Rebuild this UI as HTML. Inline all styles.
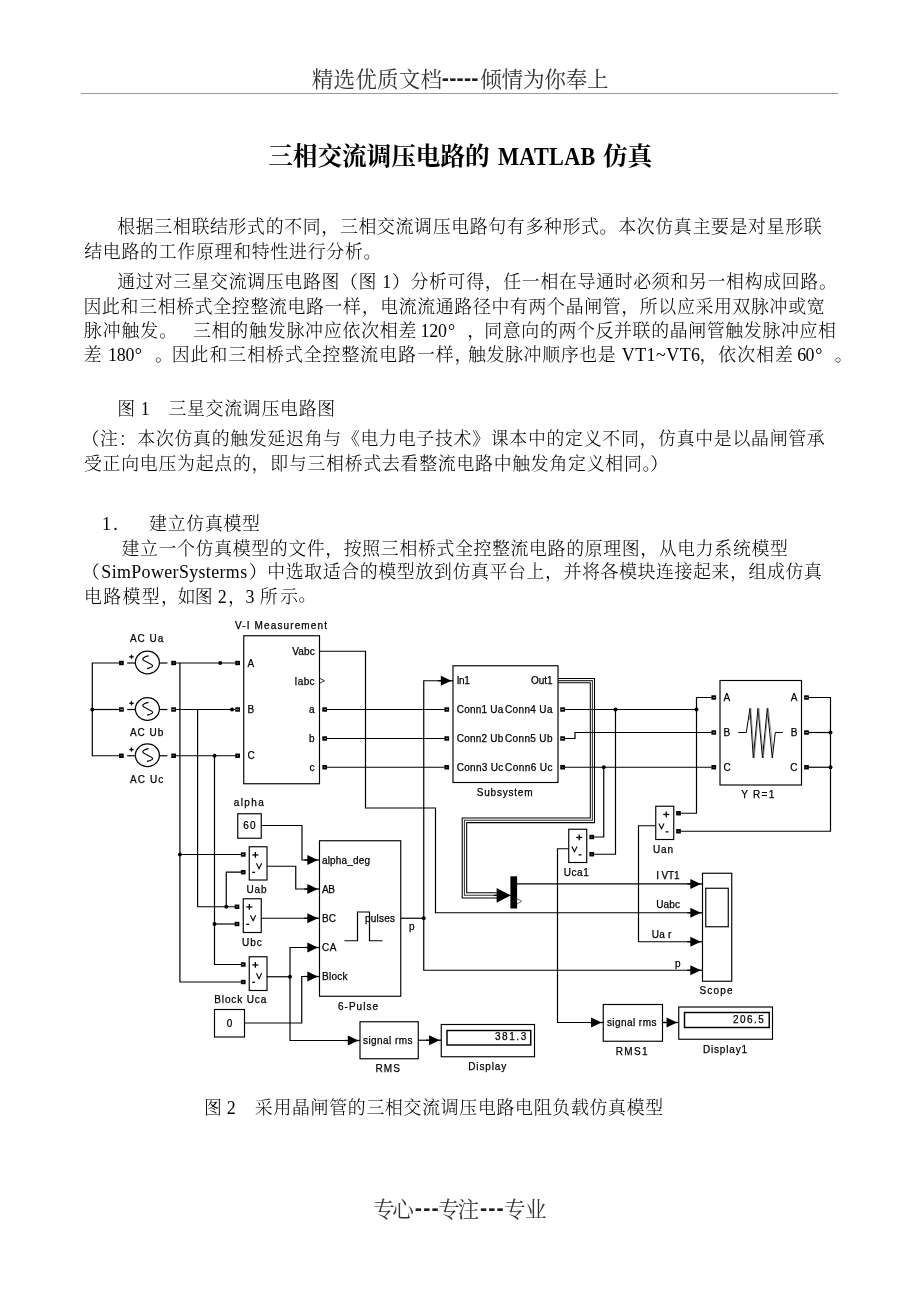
<!DOCTYPE html>
<html lang="zh-CN"><head><meta charset="utf-8"><title>三相交流调压电路的 MATLAB 仿真</title>
<style>
html,body{margin:0;padding:0;background:#fff;}
body{width:920px;height:1302px;position:relative;overflow:hidden;font-family:"Liberation Serif","Noto Serif CJK SC",serif;color:#000;}
.t{position:absolute;white-space:pre;line-height:24px;height:24px;margin:0;}
.b{font-weight:300;color:#000;}
.hd{color:#333;font-weight:400;line-height:28px;height:28px;font-family:"Liberation Sans","Noto Serif CJK SC",serif;}
.hb{color:#222;font-weight:700;line-height:28px;height:28px;font-family:"Liberation Sans",sans-serif;}
.tt{font-weight:700;color:#000;line-height:32px;height:32px;}
.rule{position:absolute;left:81px;top:93.4px;width:757px;height:1px;background:#999;}
svg{position:absolute;left:0;top:0;}
svg text{font-family:"Liberation Sans",sans-serif;font-size:10px;fill:#000;stroke:#000;stroke-width:.25px;}
</style></head><body>
<div id="pg" style="position:absolute;left:0;top:0;width:920px;height:1302px;will-change:transform">
<div class="rule"></div>

<div class="t hd" id="hda" style="left:311.75px;top:65.86px;font-size:21.6px;letter-spacing:0.150px">精选优质文档</div>
<div class="t hb" id="hdb" style="left:441.75px;top:64.26px;font-size:21.6px;letter-spacing:0.188px">-----</div>
<div class="t hd" id="hdc" style="left:480.25px;top:65.86px;font-size:21.6px;letter-spacing:-0.250px">倾情为你奉上</div>
<div class="t tt" id="tta" style="left:268.25px;top:141.13px;font-size:24.7px;letter-spacing:-0.094px">三相交流调压电路的</div>
<div class="t tt" id="ttb" style="left:498.25px;top:141.13px;font-size:25px;letter-spacing:0.300px;transform:scaleX(0.89);transform-origin:0 0">MATLAB</div>
<div class="t tt" id="ttc" style="left:603.00px;top:141.13px;font-size:24.7px;letter-spacing:-0.250px">仿真</div>
<div class="t b" id="l1" style="left:117.25px;top:215.44px;font-size:17.9px;letter-spacing:0.662px">根据三相联结形式的不同，三相交流调压电路句有多种形式。本次仿真主要是对星形联</div>
<div class="t b" id="l2" style="left:84.16px;top:239.54px;font-size:17.9px;letter-spacing:0.733px">结电路的工作原理和特性进行分析。</div>
<div class="t b" id="l3" style="left:117.25px;top:270.44px;font-size:17.9px;letter-spacing:0.674px">通过对三星交流调压电路图（图 1）分析可得，任一相在导通时必须和另一相构成回路。</div>
<div class="t b" id="l4" style="left:83.52px;top:294.85px;font-size:17.9px;letter-spacing:0.652px">因此和三相桥式全控整流电路一样，电流流通路径中有两个晶闸管，所以应采用双脉冲或宽</div>
<div class="t b" id="l5a" style="left:83.78px;top:318.94px;font-size:17.9px;letter-spacing:0.975px">脉冲触发。</div>
<div class="t b" id="l5b" style="left:193.00px;top:318.94px;font-size:17.9px;letter-spacing:0.795px">三相的触发脉冲应依次相差</div>
<div class="t b" id="l5c" style="left:420.50px;top:318.94px;font-size:17.9px;letter-spacing:-0.250px">120</div>
<div class="t b" id="l5d" style="left:448.00px;top:318.94px;font-size:17.9px">°</div>
<div class="t b" id="l5e" style="left:467.25px;top:318.94px;font-size:17.9px">，</div>
<div class="t b" id="l5f" style="left:484.25px;top:318.94px;font-size:17.9px;letter-spacing:0.653px">同意向的两个反并联的晶闸管触发脉冲应相</div>
<div class="t b" id="l6a" style="left:83.66px;top:342.96px;font-size:17.9px">差</div>
<div class="t b" id="l6b" style="left:108.00px;top:342.96px;font-size:17.9px;letter-spacing:-0.250px">180</div>
<div class="t b" id="l6c" style="left:134.75px;top:342.96px;font-size:17.9px">°</div>
<div class="t b" id="l6d" style="left:155.00px;top:342.96px;font-size:17.9px">。</div>
<div class="t b" id="l6e" style="left:171.75px;top:342.96px;font-size:17.9px;letter-spacing:0.967px">因此和三相桥式全控整流电路一样，</div>
<div class="t b" id="l6f" style="left:468.00px;top:342.96px;font-size:17.9px;letter-spacing:0.643px">触发脉冲顺序也是</div>
<div class="t b" id="l6g" style="left:621.75px;top:342.96px;font-size:17.9px;letter-spacing:0.500px">VT1~VT6</div>
<div class="t b" id="l6h" style="left:699.50px;top:342.96px;font-size:17.9px">，</div>
<div class="t b" id="l6i" style="left:718.25px;top:342.96px;font-size:17.9px;letter-spacing:1.000px">依次相差</div>
<div class="t b" id="l6j" style="left:797.25px;top:342.96px;font-size:17.9px;letter-spacing:-0.750px">60</div>
<div class="t b" id="l6k" style="left:815.25px;top:342.96px;font-size:17.9px">°</div>
<div class="t b" id="l6l" style="left:834.75px;top:342.96px;font-size:17.9px">。</div>
<div class="t b" id="l7a" style="left:117.30px;top:396.85px;font-size:17.9px">图</div>
<div class="t b" id="l7b" style="left:140.70px;top:396.85px;font-size:17.9px">1</div>
<div class="t b" id="l7c" style="left:168.39px;top:396.85px;font-size:17.9px;letter-spacing:0.726px">三星交流调压电路图</div>
<div class="t b" id="l8" style="left:81.52px;top:426.55px;font-size:17.9px;letter-spacing:0.708px">（注：本次仿真的触发延迟角与《电力电子技术》课本中的定义不同，仿真中是以晶闸管承</div>
<div class="t b" id="l9a" style="left:83.92px;top:451.58px;font-size:17.9px;letter-spacing:0.733px">受正向电压为起点的，即与三相桥式去看整流电路中触发角定义相同。</div>
<div class="t b" id="l9b" style="left:650.29px;top:451.58px;font-size:17.9px">）</div>
<div class="t b" id="l10a" style="left:102.08px;top:512.20px;font-size:17.9px;letter-spacing:2.250px">1.</div>
<div class="t b" id="l10b" style="left:149.12px;top:512.20px;font-size:17.9px;letter-spacing:0.700px">建立仿真模型</div>
<div class="t b" id="l11" style="left:121.50px;top:536.85px;font-size:17.9px;letter-spacing:0.636px">建立一个仿真模型的文件，按照三相桥式全控整流电路的原理图，从电力系统模型</div>
<div class="t b" id="l12a" style="left:81.75px;top:560.45px;font-size:17.9px">（</div>
<div class="t b" id="l12b" style="left:101.35px;top:560.45px;font-size:17.9px;letter-spacing:0.373px">SimPowerSysterms</div>
<div class="t b" id="l12c" style="left:249.11px;top:560.45px;font-size:17.9px">）</div>
<div class="t b" id="l12d" style="left:267.32px;top:560.45px;font-size:17.9px;letter-spacing:0.617px">中选取适合的模型放到仿真平台上，并将各模块连接起来，组成仿真</div>
<div class="t b" id="l13a" style="left:84.05px;top:584.64px;font-size:17.9px;letter-spacing:1.325px">电路模型，</div>
<div class="t b" id="l13b" style="left:177.79px;top:584.64px;font-size:17.9px;letter-spacing:-0.800px">如图</div>
<div class="t b" id="l13c" style="left:217.80px;top:584.64px;font-size:17.9px">2</div>
<div class="t b" id="l13d" style="left:228.08px;top:584.64px;font-size:17.9px">，</div>
<div class="t b" id="l13e" style="left:245.39px;top:584.64px;font-size:17.9px">3</div>
<div class="t b" id="l13f" style="left:259.79px;top:584.64px;font-size:17.9px;letter-spacing:2.550px">所示</div>
<div class="t b" id="l13g" style="left:298.38px;top:583.28px;font-size:17.9px">。</div>
<div class="t b" id="capa" style="left:204.12px;top:1096.35px;font-size:17.9px">图</div>
<div class="t b" id="capb" style="left:226.85px;top:1096.35px;font-size:17.9px">2</div>
<div class="t b" id="capc" style="left:254.85px;top:1096.35px;font-size:17.9px;letter-spacing:0.700px">采用晶闸管的三相交流调压电路电阻负载仿真模型</div>
<div class="t hd" id="fta" style="left:372.93px;top:1195.96px;font-size:21.6px;letter-spacing:-2.200px">专心</div>
<div class="t hb" id="ftb" style="left:414.82px;top:1194.37px;font-size:21.6px;letter-spacing:1.150px">---</div>
<div class="t hd" id="ftc" style="left:438.04px;top:1195.96px;font-size:21.6px;letter-spacing:-2.150px">专注</div>
<div class="t hb" id="ftd" style="left:479.93px;top:1194.37px;font-size:21.6px;letter-spacing:1.150px">---</div>
<div class="t hd" id="fte" style="left:503.93px;top:1195.96px;font-size:21.6px;letter-spacing:-0.400px">专业</div>
<svg width="920" height="1302" viewBox="0 0 920 1302">
<g fill="none" stroke="#000" stroke-width="1.2" stroke-linejoin="miter" stroke-linecap="butt">
<rect x="243.75" y="635.75" width="75.75" height="148.00" fill="#fff" stroke-width="1.15"/>
<rect x="453.00" y="665.75" width="105.00" height="116.75" fill="#fff" stroke-width="1.15"/>
<rect x="720.00" y="680.50" width="81.50" height="104.50" fill="#fff" stroke-width="1.15"/>
<rect x="237.75" y="813.75" width="23.50" height="24.50" fill="#fff" stroke-width="1.15"/>
<rect x="249.25" y="846.75" width="17.75" height="33.25" fill="#fff" stroke-width="1.15"/>
<rect x="243.25" y="898.75" width="18.00" height="33.75" fill="#fff" stroke-width="1.15"/>
<rect x="249.25" y="956.75" width="17.75" height="33.75" fill="#fff" stroke-width="1.15"/>
<rect x="214.50" y="1009.50" width="30.00" height="27.50" fill="#fff" stroke-width="1.15"/>
<rect x="319.50" y="840.75" width="81.25" height="155.50" fill="#fff" stroke-width="1.15"/>
<rect x="360.00" y="1021.75" width="58.25" height="37.00" fill="#fff" stroke-width="1.15"/>
<rect x="441.25" y="1024.50" width="93.25" height="32.25" fill="#fff" stroke-width="1.15"/>
<rect x="447.00" y="1030.50" width="83.75" height="14.50" fill="#fff" stroke-width="1.45"/>
<rect x="568.75" y="829.25" width="18.00" height="33.25" fill="#fff" stroke-width="1.15"/>
<rect x="655.75" y="806.25" width="18.00" height="33.25" fill="#fff" stroke-width="1.15"/>
<rect x="702.50" y="873.25" width="29.25" height="108.00" fill="#fff" stroke-width="1.15"/>
<rect x="705.75" y="888.25" width="22.50" height="38.50" fill="#fff" stroke-width="1.15"/>
<rect x="603.25" y="1004.50" width="59.25" height="36.75" fill="#fff" stroke-width="1.15"/>
<rect x="678.75" y="1007.00" width="93.75" height="32.25" fill="#fff" stroke-width="1.15"/>
<rect x="684.50" y="1012.50" width="84.75" height="15.00" fill="#fff" stroke-width="1.45"/>
<ellipse cx="147.4" cy="662.50" rx="12" ry="11.3"/>
<polyline points="127.20,663.00 135.40,663.00" />
<polyline points="159.40,663.00 167.40,663.00" />
<path d="M148.6 655.90 C145.5 656.40 142.4 657.80 142.8 659.40 C143.2 661.00 152.3 664.00 152.6 665.60 C152.8 667.00 150 668.00 147 668.60"/>
<polyline points="129.30,656.80 133.70,656.80" stroke-width="1.3"/>
<polyline points="131.50,654.70 131.50,658.80" stroke-width="1.3"/>
<ellipse cx="147.4" cy="709.00" rx="12" ry="11.3"/>
<polyline points="127.20,709.50 135.40,709.50" />
<polyline points="159.40,709.50 167.40,709.50" />
<path d="M148.6 702.40 C145.5 702.90 142.4 704.30 142.8 705.90 C143.2 707.50 152.3 710.50 152.6 712.10 C152.8 713.50 150 714.50 147 715.10"/>
<polyline points="129.30,703.30 133.70,703.30" stroke-width="1.3"/>
<polyline points="131.50,701.20 131.50,705.30" stroke-width="1.3"/>
<ellipse cx="147.4" cy="755.25" rx="12" ry="11.3"/>
<polyline points="127.20,755.75 135.40,755.75" />
<polyline points="159.40,755.75 167.40,755.75" />
<path d="M148.6 748.65 C145.5 749.15 142.4 750.55 142.8 752.15 C143.2 753.75 152.3 756.75 152.6 758.35 C152.8 759.75 150 760.75 147 761.35"/>
<polyline points="129.30,749.55 133.70,749.55" stroke-width="1.3"/>
<polyline points="131.50,747.45 131.50,751.55" stroke-width="1.3"/>
<polyline points="119.30,663.00 92.30,663.00 92.30,755.75 119.30,755.75" />
<polyline points="92.30,709.50 119.30,709.50" />
<polyline points="175.80,663.00 235.40,663.00" />
<polyline points="175.80,709.50 235.40,709.50" />
<polyline points="175.80,755.75 235.40,755.75" />
<polyline points="179.90,663.00 179.90,982.00 241.00,982.00" />
<polyline points="179.90,854.50 241.00,854.50" />
<polyline points="197.60,709.50 197.60,906.75 235.00,906.75" />
<polyline points="241.00,872.20 226.25,872.20 226.25,906.75" />
<polyline points="214.50,755.75 214.50,964.50 241.00,964.50" />
<polyline points="214.50,924.00 235.00,924.00" />
<polyline points="261.25,825.50 302.00,825.50 302.00,860.00 311.00,860.00" />
<polyline points="267.00,866.25 295.75,866.25 295.75,889.00 311.00,889.00" />
<polyline points="261.25,918.25 311.00,918.25" />
<polyline points="267.00,976.75 290.00,976.75" />
<polyline points="311.00,947.50 290.00,947.50 290.00,1040.50 351.00,1040.50" />
<polyline points="244.50,1023.00 301.75,1023.00 301.75,976.50 311.00,976.50" />
<polyline points="400.75,918.25 423.75,918.25" />
<polyline points="444.00,680.75 423.75,680.75 423.75,970.25 693.00,970.25" />
<polyline points="319.50,651.25 365.50,651.25 365.50,808.00 435.50,808.00 435.50,912.75 693.00,912.75" />
<polyline points="326.70,709.50 444.50,709.50" />
<polyline points="326.70,738.50 444.50,738.50" />
<polyline points="326.70,767.25 444.50,767.25" />
<polyline points="564.80,709.50 696.50,709.50" />
<polyline points="711.50,697.50 696.50,697.50 696.50,813.25 680.70,813.25" />
<polyline points="564.80,738.50 575.00,738.50 575.00,732.50 711.50,732.50" />
<polyline points="564.80,767.25 711.50,767.25" />
<polyline points="603.75,767.25 603.75,837.00 594.00,837.00" />
<polyline points="615.50,709.50 615.50,854.25 594.00,854.25" />
<polyline points="808.70,697.50 830.50,697.50 830.50,831.25 680.70,831.25" />
<polyline points="808.70,732.50 830.50,732.50" />
<polyline points="808.70,767.25 830.50,767.25" />
<polyline points="655.75,825.75 638.50,825.75 638.50,941.75 693.00,941.75" />
<polyline points="568.75,848.75 557.50,848.75 557.50,1022.50 594.00,1022.50" />
<polyline points="517.00,883.90 693.00,883.90" />
<polyline points="418.25,1040.25 432.00,1040.25" />
<polyline points="662.50,1022.50 670.00,1022.50" />
<polyline points="558.00,678.50 594.50,678.50 594.50,822.60 466.70,822.60 466.70,892.65 498.00,892.65" stroke-width="1.05"/>
<polyline points="558.00,680.60 592.40,680.60 592.40,820.30 464.40,820.30 464.40,895.30 498.00,895.30" stroke-width="1.05" stroke="#333"/>
<polyline points="558.00,682.70 590.30,682.70 590.30,818.00 462.20,818.00 462.20,897.90 498.00,897.90" stroke-width="1.05"/>
<polyline points="738.30,732.50 746.30,732.50 750.00,708.30 753.30,758.00 758.00,708.30 762.50,758.00 767.30,708.30 772.30,758.00 775.30,732.50 783.00,732.50" stroke-width="1"/>
<polyline points="749.20,720.00 750.80,708.30 754.20,758.00 758.80,708.30 763.40,758.00 768.20,708.30 773.00,750.00" stroke-width="0.6" stroke="#555"/>
<polyline points="344.50,940.75 357.50,940.75 357.50,912.00 369.50,912.00 369.50,940.75 382.50,940.75" />
<polyline points="319.50,678.20 324.50,680.75 319.50,683.30" stroke-width="0.8"/>
<polyline points="517.00,898.60 521.60,901.30 517.00,904.00" stroke-width="0.8" stroke="#444"/>
<polyline points="252.35,854.95 258.35,854.95" stroke-width="1.3"/>
<polyline points="255.35,852.05 255.35,857.85" stroke-width="1.3"/>
<polyline points="252.25,872.35 255.05,872.35" stroke-width="1.3"/>
<polyline points="256.45,863.35 259.05,868.75 261.65,863.35" stroke-width="1.1"/>
<polyline points="246.35,906.95 252.35,906.95" stroke-width="1.3"/>
<polyline points="249.35,904.05 249.35,909.85" stroke-width="1.3"/>
<polyline points="246.25,924.35 249.05,924.35" stroke-width="1.3"/>
<polyline points="250.45,915.35 253.05,920.75 255.65,915.35" stroke-width="1.1"/>
<polyline points="252.35,964.95 258.35,964.95" stroke-width="1.3"/>
<polyline points="255.35,962.05 255.35,967.85" stroke-width="1.3"/>
<polyline points="252.25,982.35 255.05,982.35" stroke-width="1.3"/>
<polyline points="256.45,973.35 259.05,978.75 261.65,973.35" stroke-width="1.1"/>
<polyline points="576.25,837.45 582.25,837.45" stroke-width="1.3"/>
<polyline points="579.25,834.55 579.25,840.35" stroke-width="1.3"/>
<polyline points="578.65,854.85 581.45,854.85" stroke-width="1.3"/>
<polyline points="571.85,846.45 574.45,851.85 577.05,846.45" stroke-width="1.1"/>
<polyline points="663.25,814.45 669.25,814.45" stroke-width="1.3"/>
<polyline points="666.25,811.55 666.25,817.35" stroke-width="1.3"/>
<polyline points="665.65,831.85 668.45,831.85" stroke-width="1.3"/>
<polyline points="658.85,823.45 661.45,828.85 664.05,823.45" stroke-width="1.1"/>
</g>
<g fill="#000" stroke="none">
<rect x="510.4" y="876.3" width="6.7" height="32.2"/>
<polygon points="317.90,860.00 307.30,855.00 307.30,865.00"/>
<rect x="304.30" y="859.35" width="15.20" height="1.3"/>
<polygon points="317.90,889.00 307.30,884.00 307.30,894.00"/>
<rect x="304.30" y="888.35" width="15.20" height="1.3"/>
<polygon points="317.90,918.25 307.30,913.25 307.30,923.25"/>
<rect x="304.30" y="917.60" width="15.20" height="1.3"/>
<polygon points="317.90,947.50 307.30,942.50 307.30,952.50"/>
<rect x="304.30" y="946.85" width="15.20" height="1.3"/>
<polygon points="317.90,976.50 307.30,971.50 307.30,981.50"/>
<rect x="304.30" y="975.85" width="15.20" height="1.3"/>
<polygon points="358.40,1040.50 347.80,1035.50 347.80,1045.50"/>
<rect x="344.80" y="1039.85" width="15.20" height="1.3"/>
<polygon points="451.40,680.75 440.80,675.75 440.80,685.75"/>
<rect x="437.80" y="680.10" width="15.20" height="1.3"/>
<polygon points="439.65,1040.25 429.05,1035.25 429.05,1045.25"/>
<rect x="426.05" y="1039.60" width="15.20" height="1.3"/>
<polygon points="601.65,1022.50 591.05,1017.50 591.05,1027.50"/>
<rect x="588.05" y="1021.85" width="15.20" height="1.3"/>
<polygon points="677.15,1022.50 666.55,1017.50 666.55,1027.50"/>
<rect x="663.55" y="1021.85" width="15.20" height="1.3"/>
<polygon points="700.90,883.90 690.30,878.90 690.30,888.90"/>
<rect x="687.30" y="883.25" width="15.20" height="1.3"/>
<polygon points="700.90,912.75 690.30,907.75 690.30,917.75"/>
<rect x="687.30" y="912.10" width="15.20" height="1.3"/>
<polygon points="700.90,941.75 690.30,936.75 690.30,946.75"/>
<rect x="687.30" y="941.10" width="15.20" height="1.3"/>
<polygon points="700.90,970.25 690.30,965.25 690.30,975.25"/>
<rect x="687.30" y="969.60" width="15.20" height="1.3"/>
<polygon points="510.60,895.40 496.60,888.00 496.60,902.80"/>
<rect x="493.60" y="894.75" width="17.00" height="1.3"/>
<circle cx="92.30" cy="709.50" r="1.95"/>
<circle cx="220.30" cy="663.00" r="1.95"/>
<circle cx="232.00" cy="709.50" r="1.95"/>
<circle cx="214.50" cy="755.75" r="1.95"/>
<circle cx="179.90" cy="854.50" r="1.95"/>
<circle cx="226.25" cy="906.75" r="1.95"/>
<circle cx="214.50" cy="924.00" r="1.95"/>
<circle cx="290.00" cy="976.75" r="1.95"/>
<circle cx="423.75" cy="918.25" r="1.95"/>
<circle cx="615.50" cy="709.50" r="1.95"/>
<circle cx="603.75" cy="767.25" r="1.95"/>
<circle cx="696.50" cy="709.50" r="1.95"/>
<circle cx="830.50" cy="732.50" r="1.95"/>
<circle cx="830.50" cy="767.25" r="1.95"/>
</g>
<g fill="#777" stroke="#000" stroke-width="1.7">
<rect x="119.90" y="661.65" width="3" height="2.7"/>
<rect x="172.10" y="661.65" width="3" height="2.7"/>
<rect x="236.10" y="661.65" width="3" height="2.7"/>
<rect x="119.90" y="708.15" width="3" height="2.7"/>
<rect x="172.10" y="708.15" width="3" height="2.7"/>
<rect x="236.10" y="708.15" width="3" height="2.7"/>
<rect x="119.90" y="754.40" width="3" height="2.7"/>
<rect x="172.10" y="754.40" width="3" height="2.7"/>
<rect x="236.10" y="754.40" width="3" height="2.7"/>
<rect x="323.20" y="708.15" width="3" height="2.7"/>
<rect x="445.25" y="708.15" width="3" height="2.7"/>
<rect x="561.10" y="708.15" width="3" height="2.7"/>
<rect x="323.20" y="737.15" width="3" height="2.7"/>
<rect x="445.25" y="737.15" width="3" height="2.7"/>
<rect x="561.10" y="737.15" width="3" height="2.7"/>
<rect x="323.20" y="765.90" width="3" height="2.7"/>
<rect x="445.25" y="765.90" width="3" height="2.7"/>
<rect x="561.10" y="765.90" width="3" height="2.7"/>
<rect x="712.25" y="696.15" width="3" height="2.7"/>
<rect x="805.00" y="696.15" width="3" height="2.7"/>
<rect x="712.25" y="731.15" width="3" height="2.7"/>
<rect x="805.00" y="731.15" width="3" height="2.7"/>
<rect x="712.25" y="765.90" width="3" height="2.7"/>
<rect x="805.00" y="765.90" width="3" height="2.7"/>
<rect x="241.75" y="853.15" width="3" height="2.7"/>
<rect x="241.75" y="870.85" width="3" height="2.7"/>
<rect x="235.50" y="905.40" width="3" height="2.7"/>
<rect x="235.50" y="922.65" width="3" height="2.7"/>
<rect x="241.75" y="963.15" width="3" height="2.7"/>
<rect x="241.75" y="980.65" width="3" height="2.7"/>
<rect x="590.25" y="835.65" width="3" height="2.7"/>
<rect x="590.25" y="852.90" width="3" height="2.7"/>
<rect x="677.00" y="811.90" width="3" height="2.7"/>
<rect x="677.00" y="829.90" width="3" height="2.7"/>
</g>
<g>
<text x="129.90" y="642.40" textLength="33.40" lengthAdjust="spacing">AC Ua</text>
<text x="129.90" y="736.00" textLength="33.40" lengthAdjust="spacing">AC Ub</text>
<text x="129.90" y="783.00" textLength="33.40" lengthAdjust="spacing">AC Uc</text>
<text x="235.00" y="628.75" textLength="92.00" lengthAdjust="spacing">V-I Measurement</text>
<text x="247.50" y="666.60">A</text>
<text x="247.50" y="713.10">B</text>
<text x="247.50" y="759.40">C</text>
<text x="314.70" y="654.75" text-anchor="end" textLength="22.50" lengthAdjust="spacing">Vabc</text>
<text x="314.60" y="684.50" text-anchor="end" textLength="20.00" lengthAdjust="spacing">Iabc</text>
<text x="314.50" y="713.00" text-anchor="end">a</text>
<text x="314.50" y="742.25" text-anchor="end">b</text>
<text x="314.50" y="770.60" text-anchor="end">c</text>
<text x="456.75" y="684.20" textLength="13.00" lengthAdjust="spacing">In1</text>
<text x="552.50" y="684.20" text-anchor="end" textLength="21.50" lengthAdjust="spacing">Out1</text>
<text x="456.75" y="713.00" textLength="46.50" lengthAdjust="spacing">Conn1 Ua</text>
<text x="552.50" y="713.00" text-anchor="end" textLength="47.50" lengthAdjust="spacing">Conn4 Ua</text>
<text x="456.75" y="742.00" textLength="46.50" lengthAdjust="spacing">Conn2 Ub</text>
<text x="552.50" y="742.00" text-anchor="end" textLength="47.50" lengthAdjust="spacing">Conn5 Ub</text>
<text x="456.75" y="770.75" textLength="46.50" lengthAdjust="spacing">Conn3 Uc</text>
<text x="552.50" y="770.75" text-anchor="end" textLength="47.50" lengthAdjust="spacing">Conn6 Uc</text>
<text x="476.75" y="795.75" textLength="55.75" lengthAdjust="spacing">Subsystem</text>
<text x="723.50" y="701.10">A</text>
<text x="797.50" y="701.10" text-anchor="end">A</text>
<text x="723.50" y="736.10">B</text>
<text x="797.50" y="736.10" text-anchor="end">B</text>
<text x="723.50" y="770.85">C</text>
<text x="797.50" y="770.85" text-anchor="end">C</text>
<text x="741.25" y="798.00" textLength="33.00" lengthAdjust="spacing">Y R=1</text>
<text x="233.75" y="806.00" textLength="30.00" lengthAdjust="spacing">alpha</text>
<text x="249.30" y="829.30" text-anchor="middle" textLength="12.30" lengthAdjust="spacing">60</text>
<text x="246.50" y="893.00" textLength="20.00" lengthAdjust="spacing">Uab</text>
<text x="242.00" y="945.50" textLength="19.75" lengthAdjust="spacing">Ubc</text>
<text x="214.25" y="1002.50" textLength="52.00" lengthAdjust="spacing">Block Uca</text>
<text x="229.50" y="1026.80" text-anchor="middle">0</text>
<text x="322.00" y="863.50" textLength="48.00" lengthAdjust="spacing">alpha_deg</text>
<text x="322.00" y="892.50" textLength="13.00" lengthAdjust="spacing">AB</text>
<text x="322.00" y="921.75" textLength="14.00" lengthAdjust="spacing">BC</text>
<text x="322.00" y="951.00" textLength="14.50" lengthAdjust="spacing">CA</text>
<text x="322.00" y="980.00" textLength="25.50" lengthAdjust="spacing">Block</text>
<text x="365.00" y="921.50" textLength="30.00" lengthAdjust="spacing">pulses</text>
<text x="409.00" y="929.60">p</text>
<text x="338.00" y="1009.50" textLength="40.00" lengthAdjust="spacing">6-Pulse</text>
<text x="363.00" y="1043.60" textLength="49.50" lengthAdjust="spacing">signal rms</text>
<text x="375.50" y="1072.00" textLength="24.50" lengthAdjust="spacing">RMS</text>
<text x="526.25" y="1040.10" text-anchor="end" textLength="31.25" lengthAdjust="spacing">381.3</text>
<text x="468.25" y="1070.00" textLength="38.00" lengthAdjust="spacing">Display</text>
<text x="563.75" y="876.25" textLength="25.00" lengthAdjust="spacing">Uca1</text>
<text x="653.00" y="852.50" textLength="20.00" lengthAdjust="spacing">Uan</text>
<text x="656.25" y="879.25" textLength="23.25" lengthAdjust="spacing">I VT1</text>
<text x="656.25" y="908.00" textLength="23.75" lengthAdjust="spacing">Uabc</text>
<text x="651.75" y="937.50" textLength="19.50" lengthAdjust="spacing">Ua r</text>
<text x="675.00" y="967.30">p</text>
<text x="699.50" y="994.25" textLength="33.00" lengthAdjust="spacing">Scope</text>
<text x="606.90" y="1026.00" textLength="49.50" lengthAdjust="spacing">signal rms</text>
<text x="615.75" y="1054.50" textLength="31.75" lengthAdjust="spacing">RMS1</text>
<text x="763.75" y="1022.80" text-anchor="end" textLength="30.75" lengthAdjust="spacing">206.5</text>
<text x="703.00" y="1052.50" textLength="44.00" lengthAdjust="spacing">Display1</text>
</g>
</svg>
</div></body></html>
